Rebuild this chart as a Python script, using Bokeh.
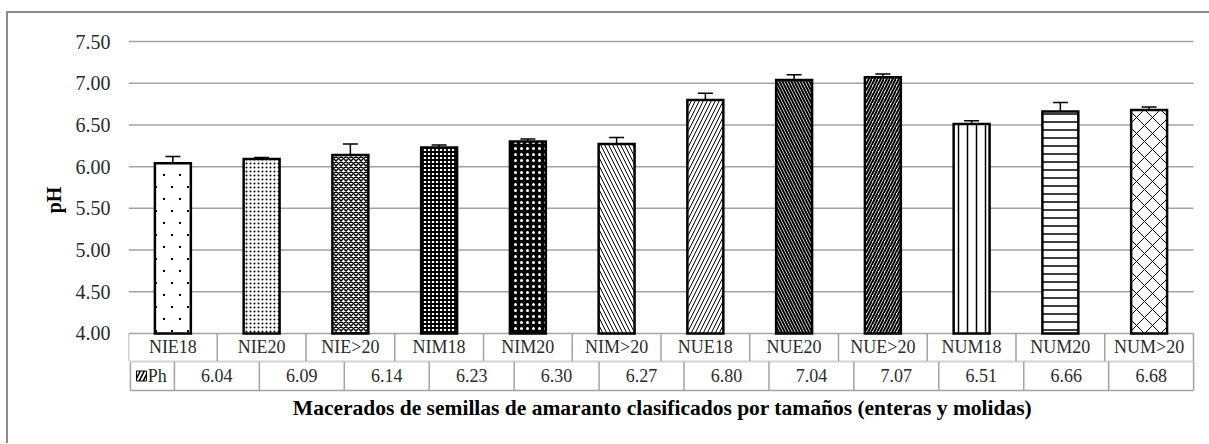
import zlib, struct, base64
from bokeh.plotting import figure
from bokeh.layouts import column, row
from bokeh.models import (ColumnDataSource, Range1d, FixedTicker, NumeralTickFormatter,
                          Whisker, TeeHead, Title, Spacer, ImageURLTexture, Div)
from bokeh.embed import file_html
from bokeh.resources import INLINE
from bokeh.core.properties import value

# ---------------- data ----------------
categories = ["NIE18", "NIE20", "NIE>20", "NIM18", "NIM20", "NIM>20",
              "NUE18", "NUE20", "NUE>20", "NUM18", "NUM20", "NUM>20"]
ph_values = [6.04, 6.09, 6.14, 6.23, 6.30, 6.27, 6.80, 7.04, 7.07, 6.51, 6.66, 6.68]
ph_errors = [0.08, 0.02, 0.13, 0.03, 0.03, 0.08, 0.08, 0.06, 0.04, 0.04, 0.11, 0.035]
y_ticks = [4.0, 4.5, 5.0, 5.5, 6.0, 6.5, 7.0, 7.5]
series_name = "Ph"
y_title = "pH"
x_title = "Macerados de semillas de amaranto clasificados por tamaños (enteras y molidas)"


# ---------------- a sparse-dot fill texture (style only) ----------------
def dot_texture(w, h, dots, size=2):
    pix = [[(0, 0, 0, 0)] * w for _ in range(h)]
    for cx, cy in dots:
        for dy in range(size):
            for dx in range(size):
                pix[(cy + dy) % h][(cx + dx) % w] = (0, 0, 0, 255)
    raw = b"".join(b"\x00" + bytes([c for p in r for c in p]) for r in pix)

    def chunk(t, d):
        return (struct.pack(">I", len(d)) + t + d
                + struct.pack(">I", zlib.crc32(t + d) & 0xffffffff))
    png = (b"\x89PNG\r\n\x1a\n"
           + chunk(b"IHDR", struct.pack(">IIBBBBB", w, h, 8, 6, 0, 0, 0))
           + chunk(b"IDAT", zlib.compress(raw)) + chunk(b"IEND", b""))
    return "data:image/png;base64," + base64.b64encode(png).decode()


sparse_dots = ImageURLTexture(url=dot_texture(16, 24, [(3, 5), (11, 17)]))

# ---------------- styles ----------------
patterns = ["sparse", "dot", "diagonal_cross", "cross", "dot", "left_diagonal_line",
            "right_diagonal_line", "left_diagonal_line", "right_diagonal_line",
            "vertical_line", "horizontal_line", "diagonal_cross"]
hatch_scales = [6, 4, 5, 4, 6, 8, 8, 6, 6, 9, 8, 16]
hatch_weights = [0.3, 0.8, 1.5, 1.8, 2, 1, 1, 2, 2, 1.5, 1.5, 1]
fill_colors = ["white"] * 4 + ["black"] + ["white"] * 7
hatch_colors = ["black"] * 4 + ["white"] + ["black"] * 7

FONT = "Liberation Serif"
GRID = "#a3a3a3"
TXT = "#2b2b2b"
BORDER = "#8c8c8c"

n = len(categories)
xs = [i + 0.5 for i in range(n)]
x_pad = 0.034          # lets the table's outer lines sit inside the frame
row1_depth = 0.336     # height of the category row, in pH units of the top chart
left_cell = -0.518     # width of the legend cell of the table, in category units

src = ColumnDataSource(dict(
    x=xs, top=ph_values,
    upper=[v + e for v, e in zip(ph_values, ph_errors)],
    lower=[v - e for v, e in zip(ph_values, ph_errors)],
    pat=patterns, hs=hatch_scales, hw=hatch_weights, fc=fill_colors, hc=hatch_colors,
))

# ---------------- top chart (plot area + category row) ----------------
y0 = y_ticks[0]
p_top = figure(width=1201, height=348, x_range=Range1d(0, n + x_pad),
               y_range=Range1d(y0 - row1_depth, 7.536),
               x_axis_location=None, output_backend="svg", toolbar_location=None,
               min_border_left=120, min_border_right=13, min_border_top=25, min_border_bottom=0)
p_top.outline_line_color = None
p_top.grid.visible = False

ya = p_top.yaxis[0]
ya.ticker = FixedTicker(ticks=y_ticks)
ya.formatter = NumeralTickFormatter(format="0.00")
ya.axis_line_color = None
ya.major_tick_line_color = None
ya.minor_tick_line_color = None
ya.major_label_standoff = 12
ya.major_label_text_font = FONT
ya.major_label_text_font_size = "20px"
ya.major_label_text_color = TXT
ya.axis_label = y_title
ya.axis_label_text_font = FONT
ya.axis_label_text_font_style = "bold"
ya.axis_label_text_font_size = "20px"
ya.axis_label_text_color = "black"
ya.axis_label_standoff = 8

# horizontal grid lines
p_top.segment(x0=[0] * len(y_ticks), x1=[n] * len(y_ticks), y0=y_ticks, y1=y_ticks,
              line_color=GRID, line_width=1.5)
# category row: bottom line + vertical separators
p_top.segment(x0=[0], x1=[n], y0=[y0 - row1_depth], y1=[y0 - row1_depth],
              line_color=GRID, line_width=1.5)
p_top.segment(x0=list(range(n + 1)), x1=list(range(n + 1)),
              y0=[y0 - row1_depth] * (n + 1), y1=[y0] * (n + 1),
              line_color=GRID, line_width=1.5)
p_top.text(x=xs, y=[y0 - row1_depth / 2] * n, text=categories, text_align="center",
           text_baseline="middle", text_font=value(FONT), text_font_size="18px", text_color=TXT)

p_top.vbar(x="x", top="top", bottom=y0, width=0.405, source=src,
           fill_color="fc", line_color="black", line_width=2.5, line_join="miter",
           hatch_pattern="pat", hatch_scale="hs", hatch_weight="hw", hatch_color="hc",
           hatch_extra={"sparse": sparse_dots})
p_top.add_layout(Whisker(source=src, base="x", upper="upper", lower="lower",
                         line_color="black", line_width=1.5,
                         upper_head=TeeHead(size=15, line_color="black", line_width=1.5),
                         lower_head=TeeHead(size=15, line_color="black", line_width=1.5)))

# ---------------- value row of the table + x title ----------------
p_bot = figure(width=1201, height=82, x_range=Range1d(left_cell - 0.0225, n + x_pad),
               y_range=Range1d(-0.069, 1), x_axis_location=None, y_axis_location=None,
               output_backend="svg", toolbar_location=None,
               min_border_left=72, min_border_right=13, min_border_top=0, min_border_bottom=51)
p_bot.outline_line_color = None
p_bot.grid.visible = False

p_bot.segment(x0=[left_cell, left_cell], x1=[n, n], y0=[1, 0], y1=[1, 0],
              line_color=GRID, line_width=1.5)
p_bot.segment(x0=list(range(n + 1)) + [left_cell], x1=list(range(n + 1)) + [left_cell],
              y0=[0] * (n + 2), y1=[1] * (n + 2), line_color=GRID, line_width=1.5)

p_bot.text(x=xs, y=[0.5] * n, text=["%.2f" % v for v in ph_values],
           text_align="center", text_baseline="middle",
           text_font=value(FONT), text_font_size="18px", text_color=TXT)

# legend key in the table
p_bot.rect(x=[left_cell + 0.13], y=[0.5], width=10, height=10, width_units="screen",
           height_units="screen", fill_color="black", line_color="black", line_width=1,
           hatch_pattern="right_diagonal_line", hatch_color="white", hatch_scale=8, hatch_weight=2)
p_bot.text(x=[left_cell + 0.205], y=[0.5], text=[series_name], text_align="left",
           text_baseline="middle", text_font=value(FONT), text_font_size="18px", text_color=TXT)

p_bot.add_layout(Title(text=x_title, align="center", offset=22, standoff=2,
                       text_font=FONT, text_font_style="bold", text_font_size="21.5px",
                       text_color="black"), "below")

# ---------------- outer chart border (left and top edges) ----------------
top_bar = Div(text="", width=1203, height=2, margin=0,
              styles={"background-color": BORDER, "width": "1203px", "height": "2px"})
left_bar = Div(text="", width=2, height=430, margin=0,
               styles={"background-color": BORDER, "width": "2px", "height": "430px"})

layout = row(
    Spacer(width=6, height=443),
    column(Spacer(width=1203, height=11), top_bar,
           row(left_bar, column(p_top, p_bot, spacing=0), spacing=0),
           spacing=0),
    spacing=0)

open("out.html", "w").write(file_html(layout, INLINE))
